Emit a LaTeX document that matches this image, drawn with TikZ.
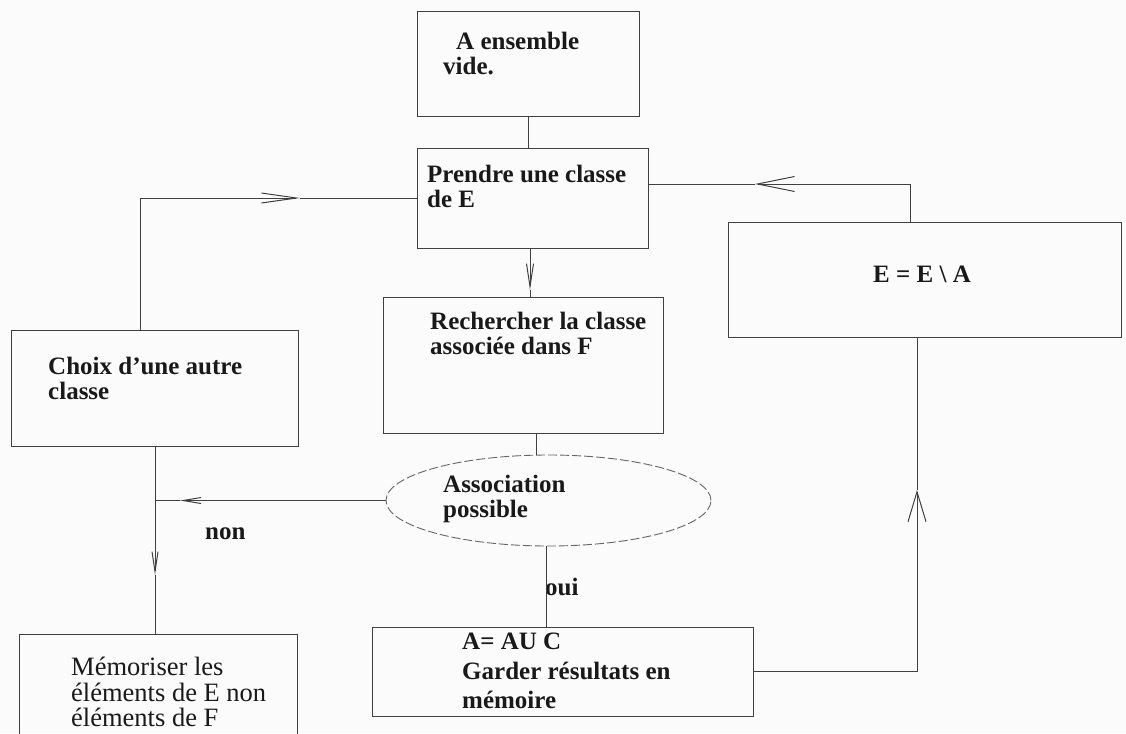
\documentclass[tikz,border=0pt]{standalone}
\usepackage{fontspec}
\setmainfont{Liberation Serif}
\usetikzlibrary{shapes.geometric,arrows.meta}
\definecolor{ln}{gray}{0.25}
\definecolor{bg}{gray}{0.985}
\begin{document}
\begin{tikzpicture}[x=1pt,y=-1pt,
  box/.style={draw=ln,line width=1pt,rectangle,inner sep=0pt},
  txt/.style={anchor=north west,inner sep=0pt,align=left,text=black!90,
    font=\fontsize{25}{25}\selectfont\bfseries},
  txtr/.style={txt,font=\fontsize{26.5}{25.5}\selectfont},
  con/.style={draw=ln,line width=1pt},
  barb/.style n args={2}{con,-{Straight Barb[length=#1,width=#2,line width=1pt]}}
]
\useasboundingbox[fill=bg] (0,0) rectangle (1126,733);
% boxes
\node[box,minimum width=222,minimum height=105] (aens) at (528,64.5) {};
\node[box,minimum width=231,minimum height=100] (prendre) at (532.5,198) {};
\node[box,minimum width=280,minimum height=136] (rech) at (523,365) {};
\node[box,minimum width=287,minimum height=116] (choix) at (154.5,388) {};
\node[box,minimum width=393,minimum height=115] (ea) at (924.5,279.5) {};
\node[draw=ln!80,line width=0.9pt,dash pattern=on 9pt off 3pt,ellipse,minimum width=325,minimum height=91,inner sep=0pt] (assoc) at (548.5,500.5) {};
\node[box,minimum width=381,minimum height=89] (aauc) at (562.5,671.5) {};
\node[box,minimum width=278,minimum height=110] (memo) at (158,689) {};
% texts
\node[txt] (taens) at (443,32) {\hspace{13pt}A ensemble\\vide.};
\node[txt] (tprendre) at (427,165) {Prendre une classe\\de E};
\node[txt] (trech) at (430,312) {Rechercher la classe\\associée dans F};
\node[txt] (tchoix) at (48,357) {Choix d'une autre\\classe};
\node[txt,anchor=base] (tea) at (922,282) {E = E \textbackslash\ A};
\node[txt] (tassoc) at (443,475) {Association\\possible};
\node[txt] (taauc) at (462,633) {A= AU C\\[5pt]Garder résultats en\\[4pt]mémoire};
\node[txtr] (tmemo) at (71,657) {Mémoriser les\\éléments de E non\\éléments de F};
\node[txt,anchor=base west] (tnon) at (205,539) {non};
\node[txt,anchor=base west] (toui) at (545,595) {oui};
% connector coordinates
\coordinate (lt) at (300,198);
\coordinate (rt) at (755,184);
\coordinate (dt1) at (530,290);
\coordinate (nt) at (180,500.5);
\coordinate (dt2) at (155,575);
\coordinate (ut) at (917,490);
% connectors
\draw[con] (aens.south) -- (aens.south |- prendre.north);
\draw[barb={35pt}{10pt}] ([xshift=-14.5pt]choix.north) |- (lt);
\draw[con] (lt) -- (prendre.west);
\draw[barb={37pt}{15pt}] ([xshift=-14.5pt]ea.north) |- (rt);
\draw[con] (rt) -- ([yshift=14pt]prendre.east);
\draw[barb={23pt}{7pt}] (dt1 |- prendre.south) -- (dt1);
\draw[con] (dt1) -- (dt1 |- rech.north);
\draw[con] ([xshift=13pt]rech.south) -- ([xshift=13pt]rech.south |- assoc.north);
\draw[barb={18pt}{6pt}] (assoc.west) -- (nt);
\draw[con] (nt) -- (nt -| dt2);
\draw[barb={20pt}{6pt}] (dt2 |- choix.south) -- (dt2);
\draw[con] (dt2) -- (dt2 |- memo.north);
\draw[con] ([xshift=-2.5pt]assoc.south) -- ([xshift=-2.5pt]assoc.south |- aauc.north);
\draw[barb={30pt}{18pt}] (aauc.east) -| (ut);
\draw[con] (ut) -- (ut |- ea.south);
\end{tikzpicture}
\end{document}
